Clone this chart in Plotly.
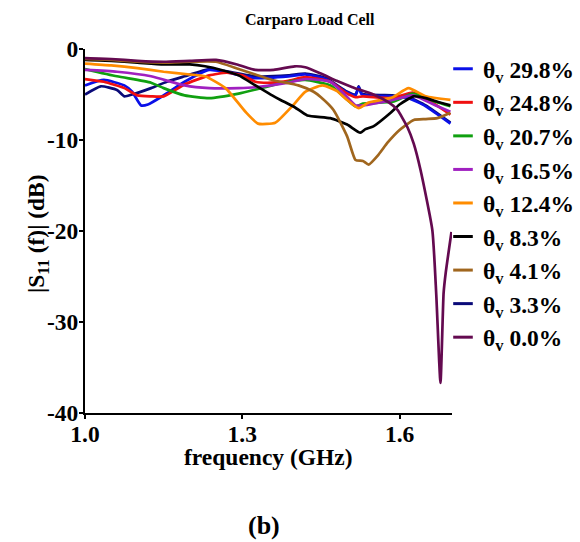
import plotly.graph_objects as go

# ---------------- data ----------------
labels = ["29.8%", "24.8%", "20.7%", "16.5%", "12.4%", "8.3%", "4.1%", "3.3%", "0.0%"]
colors = ["#0a10e8", "#f01010", "#10a010", "#a020c0", "#ff8c00", "#000000", "#a0661e", "#0a0a78", "#640a50"]

f_298 = [1.00, 1.036, 1.075, 1.09, 1.107, 1.12, 1.15, 1.19, 1.237, 1.265, 1.325, 1.388, 1.42, 1.459, 1.497, 1.516, 1.522, 1.528, 1.587, 1.617, 1.65, 1.697]
s_298 = [-4.0, -3.4, -4.0, -4.7, -6.2, -6.1, -5.1, -3.6, -2.3, -2.5, -3.2, -3.0, -2.8, -3.3, -4.7, -5.1, -4.2, -5.0, -5.2, -5.4, -6.3, -8.2]

f_248 = [1.00, 1.036, 1.075, 1.10, 1.126, 1.15, 1.19, 1.237, 1.27, 1.30, 1.325, 1.357, 1.388, 1.42, 1.468, 1.497, 1.516, 1.53, 1.587, 1.625, 1.66, 1.697]
s_248 = [-3.3, -3.6, -4.3, -5.1, -5.2, -5.2, -3.9, -2.9, -2.6, -2.9, -3.6, -3.7, -3.5, -3.1, -3.6, -4.8, -5.3, -5.2, -5.4, -4.8, -5.8, -7.2]

f_207 = [1.00, 1.061, 1.126, 1.15, 1.19, 1.237, 1.293, 1.357, 1.388, 1.42, 1.468, 1.497, 1.516, 1.53, 1.587, 1.625, 1.669, 1.697]
s_207 = [-2.2, -3.0, -3.7, -4.3, -5.1, -5.4, -4.9, -4.0, -3.6, -3.4, -4.0, -5.4, -6.3, -6.0, -5.8, -4.9, -5.8, -6.3]

f_165 = [1.00, 1.061, 1.126, 1.19, 1.237, 1.293, 1.325, 1.388, 1.42, 1.468, 1.497, 1.516, 1.53, 1.587, 1.625, 1.669, 1.697]
s_165 = [-2.3, -2.5, -3.0, -4.0, -4.3, -4.3, -4.2, -3.7, -3.3, -3.6, -5.1, -6.2, -6.2, -5.6, -5.1, -6.2, -6.9]

f_124 = [1.00, 1.05, 1.10, 1.15, 1.20, 1.229, 1.268, 1.306, 1.33, 1.363, 1.395, 1.42, 1.453, 1.48, 1.50, 1.522, 1.54, 1.587, 1.617, 1.65, 1.697]
s_124 = [-1.6, -1.8, -2.1, -2.5, -2.8, -3.0, -4.3, -6.9, -8.2, -8.1, -6.3, -4.7, -4.0, -4.6, -5.6, -6.5, -5.9, -5.3, -4.3, -5.2, -5.6]

f_083 = [1.00, 1.05, 1.10, 1.15, 1.20, 1.229, 1.26, 1.293, 1.325, 1.357, 1.373, 1.40, 1.424, 1.468, 1.50, 1.525, 1.535, 1.55, 1.583, 1.60, 1.627, 1.65, 1.672, 1.697]
s_083 = [-1.2, -1.3, -1.5, -1.7, -1.7, -1.9, -2.3, -2.9, -4.0, -5.1, -5.6, -6.4, -7.3, -7.6, -8.3, -9.2, -8.8, -8.5, -7.0, -6.1, -5.2, -5.4, -5.8, -6.2]

f_041 = [1.00, 1.05, 1.10, 1.15, 1.20, 1.25, 1.293, 1.325, 1.357, 1.373, 1.407, 1.436, 1.45, 1.474, 1.50, 1.516, 1.53, 1.541, 1.56, 1.577, 1.60, 1.627, 1.65, 1.672, 1.697]
s_041 = [-1.1, -1.2, -1.4, -1.5, -1.4, -1.4, -2.2, -2.8, -3.4, -3.6, -4.0, -4.7, -5.3, -6.7, -9.6, -12.2, -12.3, -12.7, -11.6, -10.3, -8.9, -7.8, -7.7, -7.6, -7.0]

f_033 = [1.00, 1.03, 1.061, 1.075, 1.09, 1.126, 1.156, 1.19, 1.237, 1.265, 1.325, 1.388, 1.42, 1.459, 1.497, 1.516, 1.522, 1.528, 1.587, 1.617, 1.65, 1.697]
s_033 = [-5.0, -4.1, -4.5, -5.2, -5.0, -4.3, -3.6, -3.0, -2.2, -2.4, -3.0, -2.9, -2.7, -3.2, -4.6, -5.0, -4.1, -4.9, -5.1, -5.3, -6.2, -8.1]

f_000 = [1.00, 1.05, 1.10, 1.15, 1.20, 1.25, 1.29, 1.325, 1.36, 1.40, 1.42, 1.45, 1.48, 1.51, 1.55, 1.58, 1.596, 1.615, 1.627, 1.64, 1.6625, 1.67, 1.678, 1.684, 1.688, 1.699]
s_000 = [-1.0, -1.1, -1.3, -1.4, -1.3, -1.2, -1.7, -2.3, -2.3, -1.9, -2.0, -2.7, -3.5, -4.2, -5.0, -5.9, -6.7, -8.6, -10.4, -13.3, -19.9, -27.0, -36.7, -26.8, -24.6, -20.1]

freqs = [f_298, f_248, f_207, f_165, f_124, f_083, f_041, f_033, f_000]
s11s = [s_298, s_248, s_207, s_165, s_124, s_083, s_041, s_033, s_000]

x_ticks = [1.0, 1.3, 1.6]
x_ticktext = ["1.0", "1.3", "1.6"]
y_ticks = [0, -10, -20, -30, -40]
y_ticktext = ["0", "-10", "-20", "-30", "-40"]

# ---------------- figure ----------------
FONT = "Liberation Serif"
FS = 23.5
fig = go.Figure()

# draw order: navy beneath the others, otherwise legend order
draw_order = [7, 0, 1, 2, 3, 4, 5, 6, 8]
for i in draw_order:
    fig.add_trace(go.Scatter(
        x=freqs[i], y=s11s[i], mode="lines",
        line=dict(color=colors[i], width=2.7, shape="spline", smoothing=0.5),
        showlegend=False, hoverinfo="skip"))

# legend entries (short line symbols)
for i, lab in enumerate(labels):
    fig.add_trace(go.Scatter(
        x=[None], y=[None], mode="markers",
        marker=dict(symbol="line-ew", size=14, color=colors[i],
                    line=dict(color=colors[i], width=3)),
        name="θ<sub>v</sub> " + lab, legendgroup="g%d" % i,
        legendrank=i + 1, showlegend=True))

L, R, T, B = 85, 128, 49, 129
W, H = 580, 542
pw, ph = W - L - R, H - T - B

def px(xp):
    return (xp - L) / pw

def py(yp):
    return (H - B - yp) / ph

fig.update_layout(
    width=W, height=H,
    margin=dict(l=L, r=R, t=T, b=B, autoexpand=False),
    paper_bgcolor="white", plot_bgcolor="white",
    font=dict(family=FONT, size=FS, color="black", weight="bold"),
    showlegend=True,
    legend=dict(xref="container", yref="container",
                x=443 / W, y=1 - 47 / H, xanchor="left", yanchor="top",
                font=dict(family=FONT, size=FS, color="black", weight="bold"),
                tracegroupgap=0, itemsizing="trace", bgcolor="rgba(0,0,0,0)",
                borderwidth=0, maxheight=480),
    xaxis=dict(range=[1.0, 1.7], tickvals=x_ticks, ticktext=x_ticktext,
               showline=True, linecolor="black", linewidth=2,
               ticks="outside", ticklen=4, tickwidth=2, tickcolor="black",
               ticklabelstandoff=-5,
               showgrid=False, zeroline=False, mirror=False,
               tickfont=dict(family=FONT, size=FS, weight="bold")),
    yaxis=dict(range=[-40, 0], tickvals=y_ticks, ticktext=y_ticktext,
               showline=True, linecolor="black", linewidth=2,
               ticks="outside", ticklen=4, tickwidth=2, tickcolor="black",
               ticklabelstandoff=-4,
               showgrid=False, zeroline=False, mirror=False,
               tickfont=dict(family=FONT, size=FS, weight="bold")),
)

fig.add_annotation(text="Carparo Load Cell", xref="paper", yref="paper",
                   x=px(310), y=py(20), showarrow=False,
                   xanchor="center", yanchor="middle",
                   font=dict(family=FONT, size=16, weight="bold"))
fig.add_annotation(text="frequency (GHz)", xref="paper", yref="paper",
                   x=px(268), y=py(457), showarrow=False,
                   xanchor="center", yanchor="middle",
                   font=dict(family=FONT, size=FS, weight="bold"))
fig.add_annotation(text="|S<sub>11</sub> (f)| (dB)", xref="paper", yref="paper",
                   x=px(38), y=py(234), showarrow=False, textangle=-90,
                   xanchor="center", yanchor="middle",
                   font=dict(family=FONT, size=FS, weight="bold"))
fig.add_annotation(text="(b)", xref="paper", yref="paper",
                   x=px(264), y=py(525), showarrow=False,
                   xanchor="center", yanchor="middle",
                   font=dict(family=FONT, size=26, weight="bold"))

fig.write_html("out.html")
